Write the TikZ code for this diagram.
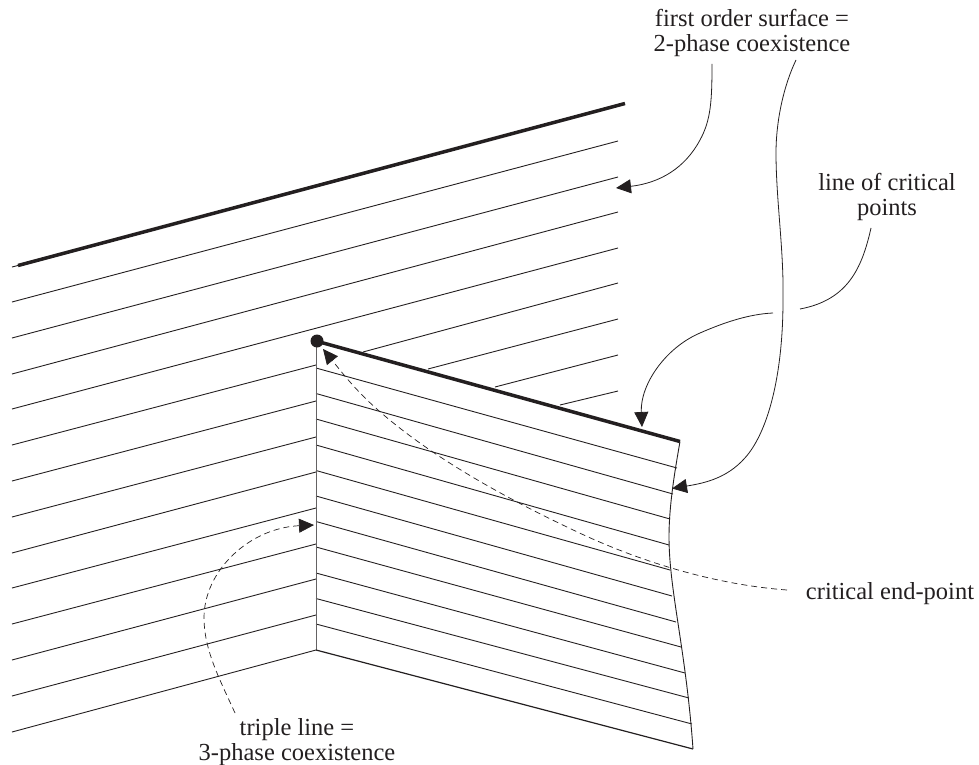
\documentclass[tikz,border=0pt]{standalone}
\usepackage{fontspec}
\setmainfont{Liberation Serif}
\usetikzlibrary{arrows.meta}
\definecolor{ink}{RGB}{35,31,32}
\tikzset{
    hatch/.style={ink,line width=0.9pt},
    heavy/.style={ink,line width=3.5pt},
    leader/.style={ink,line width=0.8pt},
    tipped/.style={leader,-{Triangle[length=15pt,width=14pt]}},
    dashleader/.style={tipped,line width=0.7pt,dash pattern=on 6pt off 4pt},
    lbl/.style={ink,align=center,inner sep=0pt,font=\fontsize{24.5}{25}\selectfont}
}
\begin{document}
\begin{tikzpicture}[x=1pt,y=-1pt]
    \useasboundingbox (0,0) rectangle (979,765);
    % labels
    \node[lbl] (surface) at (752,33) {first order surface =\\2-phase coexistence};
    \node[lbl] (critline) at (887,197) {line of critical\\points};
    \node[lbl] (endpoint) at (890,594) {critical end-point};
    \node[lbl] (triple) at (297,742) {triple line =\\3-phase coexistence};
    % back surface, full lines
    \foreach \ya/\yb in {302/141,338/177,374/212,409/248}
    {
        \draw[hatch] (12,\ya)--(618,\yb);
    }
    % back surface, cut by the wall
    \foreach \ya/\yb in {445/365,481/401,517/437,553/472,588/508,624/544,660/579,696/615,732/650}
    {
        \draw[hatch] (12,\ya)--(316,\yb);
    }
    \foreach \x/\ya/\yb in {363/352/283,428/369/319,495/387/355,560/405/391}
    {
        \draw[hatch] (\x,\ya)--(618,\yb);
    }
    \draw[hatch] (12,267)--(18,265.5);
    \draw[heavy] (18,265.5)--(625,103.5);
    % front surface
    \foreach \ya/\x/\yb in {368/677/468,393.5/673/494,419/670/519,445/669/545,470.5/670/570,496/672/596,521.5/676/622,547/681/647,573/685/673,598.5/689/698,624/692/724}
    {
        \draw[hatch] (316,\ya)--(\x,\yb);
    }
    \coordinate (walltop) at (316,341);
    \coordinate (wallfoot) at (316,650);
    \coordinate (edgetop) at (680,441.5);
    \coordinate (edgemid) at (669,537);
    \coordinate (edgefoot) at (693,749);
    \draw[hatch,gray!70!ink] (walltop)--(wallfoot);
    \draw[hatch,line width=1.2pt] (wallfoot)--(edgefoot);
    \draw[hatch] (edgetop) .. controls (675,470) and (669,505) .. (edgemid)
        .. controls (669,590) and (686,650) .. (edgefoot);
    \draw[heavy] (walltop)--(edgetop);
    \fill[ink] (walltop) ++(1,0) circle[radius=6.5];
    % leaders
    \coordinate (surfstart) at (712,64);
    \coordinate (surftip) at (616,188);
    \draw[tipped] (surfstart) .. controls (712,100) and (711,120) .. (700,140)
        .. controls (685,168) and (660,183) .. (surftip);
    \coordinate (edgestart) at (796,60);
    \coordinate (edgetip) at (672,488.5);
    \draw[tipped] (edgestart) .. controls (784,85) and (776,120) .. (776,153)
        .. controls (776,200) and (784,250) .. (783,300)
        .. controls (783,370) and (770,425) .. (749,453)
        .. controls (730,478) and (705,483) .. (edgetip);
    \coordinate (critstart) at (871,228);
    \coordinate (critgapa) at (800,309);
    \coordinate (critgapb) at (773,313);
    \coordinate (crittip) at (642,427);
    \draw[leader] (critstart) .. controls (862,268) and (848,300) .. (critgapa);
    \draw[tipped] (critgapb) .. controls (750,314) and (725,322) .. (700,333)
        .. controls (665,348) and (640,385) .. (crittip);
    \coordinate (endstart) at (787,590);
    \coordinate (endtip) at (323,349);
    \draw[dashleader] (endstart) .. controls (720,585) and (650,565) .. (586,536)
        .. controls (530,510) and (440,465) .. (378,410)
        .. controls (355,390) and (340,370) .. (endtip);
    \coordinate (triplestart) at (235,713);
    \coordinate (tripletip) at (314,525);
    \draw[dashleader] (triplestart) .. controls (220,680) and (204,650) .. (204,618)
        .. controls (204,570) and (250,528) .. (tripletip);
\end{tikzpicture}
\end{document}
